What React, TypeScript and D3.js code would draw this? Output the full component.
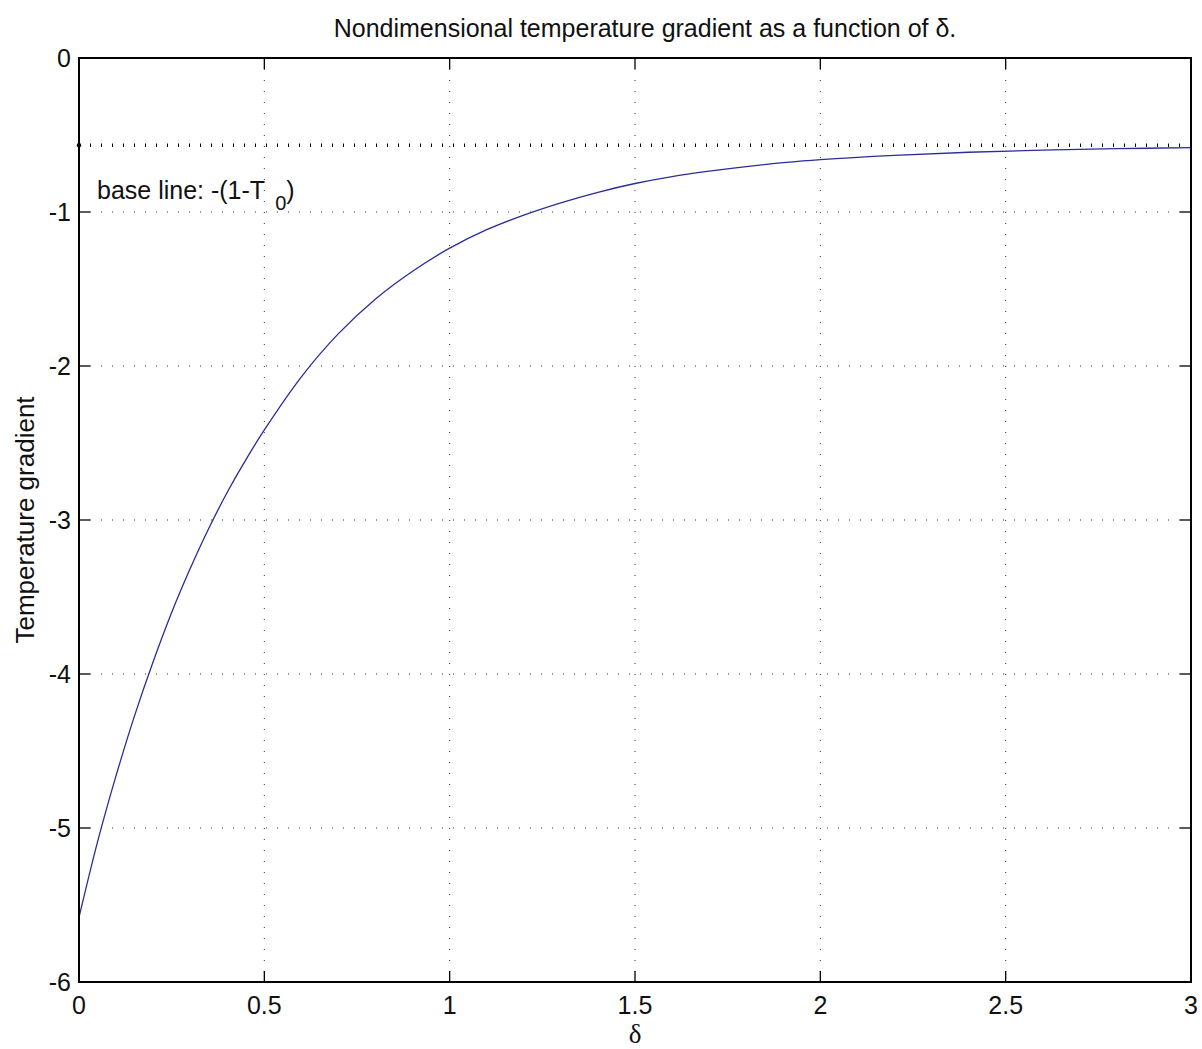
import React, { useEffect, useRef } from "react";
import * as d3 from "d3";

const deltaValues = [0, 0.05, 0.1, 0.15, 0.2, 0.25, 0.3, 0.35, 0.4, 0.45, 0.5, 0.6, 0.7, 0.8, 0.9, 1.0, 1.1, 1.2, 1.3, 1.4, 1.5, 1.6, 1.7, 1.8, 1.9, 2.0, 2.2, 2.4, 2.6, 2.8, 3.0];
const gradientValues = [-5.58, -5.09, -4.66, -4.27, -3.92, -3.6, -3.315, -3.055, -2.82, -2.61, -2.415, -2.07, -1.79, -1.565, -1.385, -1.235, -1.115, -1.02, -0.94, -0.872, -0.815, -0.77, -0.735, -0.705, -0.68, -0.66, -0.632, -0.612, -0.598, -0.589, -0.582];
const baseLineValue = -0.567;
const xTicks = [0, 0.5, 1, 1.5, 2, 2.5, 3];
const yTicks = [0, -1, -2, -3, -4, -5, -6];
const titleText = "Nondimensional temperature gradient as a function of δ.";
const xLabelText = "δ";
const yLabelText = "Temperature gradient";

const W = 1202;
const H = 1049;
const M = { left: 79, right: 1191, top: 58, bottom: 982 };
const FONT = "'Liberation Sans', Arial, Helvetica, sans-serif";

export default function App() {
  const ref = useRef<SVGSVGElement>(null);
  useEffect(() => {
    const svg = d3.select(ref.current);
    svg.selectAll("*").remove();
    const x = d3.scaleLinear().domain([0, 3]).range([M.left, M.right]);
    const y = d3.scaleLinear().domain([-6, 0]).range([M.bottom, M.top]);

    // grid
    const grid = svg.append("g");
    xTicks.slice(1, -1).forEach((t) => {
      grid.append("line").attr("x1", x(t)).attr("x2", x(t)).attr("y1", M.top).attr("y2", M.bottom)
        .attr("stroke", "#000").attr("stroke-width", 1).attr("stroke-dasharray", "1 10").attr("opacity", 0.8);
    });
    yTicks.slice(1, -1).forEach((t) => {
      grid.append("line").attr("x1", M.left).attr("x2", M.right).attr("y1", y(t)).attr("y2", y(t))
        .attr("stroke", "#000").attr("stroke-width", 1).attr("stroke-dasharray", "1 10").attr("opacity", 0.8);
    });

    // base line
    svg.append("line").attr("x1", x(0)).attr("x2", x(3)).attr("y1", y(baseLineValue)).attr("y2", y(baseLineValue))
      .attr("stroke", "#000").attr("stroke-width", 3.5).attr("stroke-dasharray", "1 10");
    svg.append("circle").attr("cx", x(0)).attr("cy", y(baseLineValue)).attr("r", 2.2).attr("fill", "#000");

    // curve
    const pts = deltaValues.map((d, i) => [d, gradientValues[i]] as [number, number]);
    const line = d3.line<[number, number]>().x((d) => x(d[0])).y((d) => y(d[1])).curve(d3.curveCatmullRom);
    svg.append("path").attr("d", line(pts)).attr("fill", "none").attr("stroke", "#2a2d98").attr("stroke-width", 1.3);

    // ticks (inward, mirrored)
    const tk = svg.append("g").attr("stroke", "#000").attr("stroke-width", 1.3);
    const tl = 11;
    xTicks.forEach((t) => {
      tk.append("line").attr("x1", x(t)).attr("x2", x(t)).attr("y1", M.bottom).attr("y2", M.bottom - tl);
      tk.append("line").attr("x1", x(t)).attr("x2", x(t)).attr("y1", M.top).attr("y2", M.top + tl);
    });
    yTicks.forEach((t) => {
      tk.append("line").attr("x1", M.left).attr("x2", M.left + tl).attr("y1", y(t)).attr("y2", y(t));
      tk.append("line").attr("x1", M.right).attr("x2", M.right - tl).attr("y1", y(t)).attr("y2", y(t));
    });

    // frame
    svg.append("rect").attr("x", M.left).attr("y", M.top).attr("width", M.right - M.left).attr("height", M.bottom - M.top)
      .attr("fill", "none").attr("stroke", "#000").attr("stroke-width", 2);

    // tick labels
    xTicks.forEach((t) => {
      svg.append("text").attr("x", x(t)).attr("y", 1014).attr("text-anchor", "middle")
        .attr("font-family", FONT).attr("font-size", 25).attr("fill", "#111").text(String(t));
    });
    yTicks.forEach((t) => {
      svg.append("text").attr("x", 71).attr("y", y(t)).attr("dy", "0.35em").attr("text-anchor", "end")
        .attr("font-family", FONT).attr("font-size", 25).attr("fill", "#111").text(String(t));
    });

    // title
    svg.append("text").attr("x", 645).attr("y", 37).attr("text-anchor", "middle")
      .attr("font-family", FONT).attr("font-size", 25).attr("fill", "#111").text(titleText);
    // xlabel
    svg.append("text").attr("x", 635).attr("y", 1043).attr("text-anchor", "middle")
      .attr("font-family", "'Liberation Serif', 'Times New Roman', serif").attr("font-size", 27).attr("fill", "#111").text(xLabelText);
    // ylabel
    svg.append("text").attr("transform", `translate(34,${(M.top + M.bottom) / 2}) rotate(-90)`).attr("text-anchor", "middle")
      .attr("font-family", FONT).attr("font-size", 26).attr("fill", "#111").text(yLabelText);

    // annotation
    const ann = svg.append("text").attr("x", 97).attr("y", 199).attr("font-family", FONT).attr("font-size", 25).attr("fill", "#111");
    ann.append("tspan").text("base line: -(1-T");
    ann.append("tspan").attr("dx", 10).attr("dy", 11).attr("font-size", 20).text("0");
    ann.append("tspan").attr("dy", -11).text(")");
  }, []);
  return <svg ref={ref} width={W} height={H} style={{ position: "absolute", left: 0, top: 0, background: "#fff" }} />;
}
